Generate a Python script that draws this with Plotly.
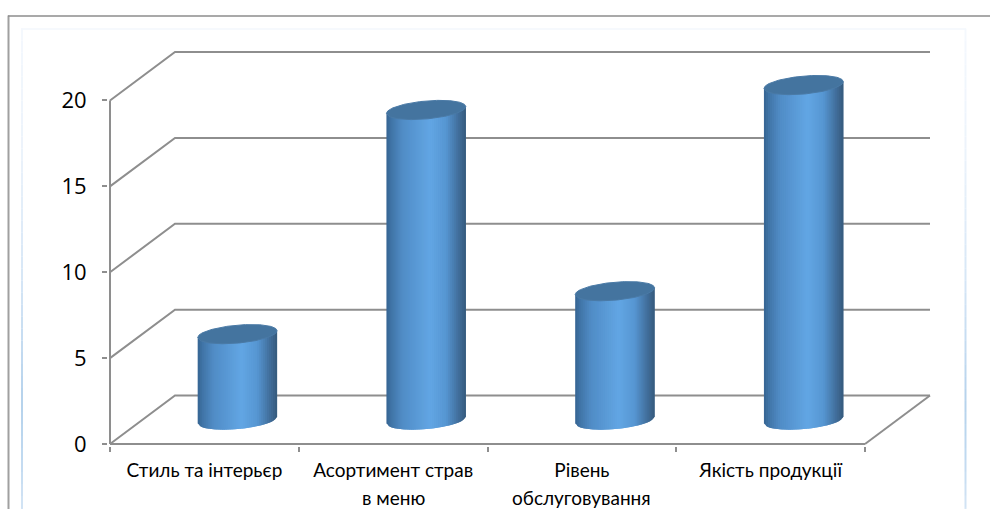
import plotly.graph_objects as go

# ---- data ----
categories = ["Стиль та інтерьєр", "Асортимент страв", "Рівень", "Якість продукції"]
second_lines = ["", "в меню", "обслуговування", ""]
values = [5.0, 18.05, 7.5, 19.5]
y_ticks = [0, 5, 10, 15, 20]

# ---- geometry (pixels of the photo) ----
W, H = 990, 509
L, R, T, B = 110, 865, 100, 444
PAD = 2
PX_X = (R - L) / 4.0
PX_Y = (B - T) / 20.0
DEPTH_X, DEPTH_Y = 65 / PX_X, 48.5 / PX_Y
RX, RY, SLOPE = 39.7 / PX_X, 9 / PX_Y, 3.4 / PX_Y
CYL_DX, CYL_BASE = 33 / PX_X, 24 / PX_Y
GRID = "#8e8e8e"

STOPS = [(0, (54, 100, 146)), (.06, (64, 116, 166)), (.2, (80, 140, 198)), (.55, (98, 166, 228)),
         (.75, (86, 150, 210)), (.9, (66, 112, 158)), (1, (54, 90, 124))]
FRAME_STOPS = [(28, (244, 248, 253)), (150, (236, 243, 251)), (280, (214, 230, 246)),
               (400, (181, 210, 236)), (450, (190, 216, 240)), (509, (212, 228, 245))]


def blend(stops, t):
    for (a, ca), (b, cb) in zip(stops, stops[1:]):
        if t <= b:
            f = max(0.0, (t - a) / (b - a))
            return "rgb(%d,%d,%d)" % tuple(round(p + (q - p) * f) for p, q in zip(ca, cb))
    return "rgb(%d,%d,%d)" % stops[-1][1]


x0, x1 = -0.5, len(categories) - 0.5
PL, PR = L - PAD, R + 65 + PAD
PT, PB = T - 48.5 - PAD, B + PAD


def px(x):
    return (x - PL) / (PR - PL)


def py(y):
    return (PB - y) / (PB - PT)


fig = go.Figure()


def line(xs, ys, color=GRID, width=2):
    fig.add_trace(go.Scatter(x=xs, y=ys, mode="lines", line=dict(color=color, width=width),
                             hoverinfo="skip", showlegend=False))


for v in y_ticks:
    line([x0, x0 + DEPTH_X, x1 + DEPTH_X], [v, v + DEPTH_Y, v + DEPTH_Y])
line([x1, x1 + DEPTH_X], [0, DEPTH_Y])
line([x0, x0], [0, y_ticks[-1]])
line([x0, x1], [0, 0])


def edge(u):
    return SLOPE * u - RY * (1 - u * u) ** 0.5


N = 40
for i, v in enumerate(values):
    cx = i + CYL_DX
    for k in range(N):
        a, b = -1 + 2 * k / N, min(1.0, -1 + 2 * (k + 2) / N)
        col = blend(STOPS, (k + 0.5) / N)
        xs = [cx + RX * a, cx + RX * b, cx + RX * b, cx + RX * a, cx + RX * a]
        ys = [CYL_BASE + edge(a), CYL_BASE + edge(b), CYL_BASE + v + SLOPE * b,
              CYL_BASE + v + SLOPE * a, CYL_BASE + edge(a)]
        fig.add_trace(go.Scatter(x=xs, y=ys, mode="lines", fill="toself", fillcolor=col,
                                 line=dict(width=0), hoverinfo="skip", showlegend=False))
    M = 60
    us = [-1 + 2 * j / M for j in range(M + 1)]
    ex = [cx + RX * u for u in us] + [cx + RX * u for u in reversed(us)]
    ey = [CYL_BASE + v + edge(u) for u in us] + \
         [CYL_BASE + v + 2 * SLOPE * u - edge(u) for u in reversed(us)]
    fig.add_trace(go.Scatter(x=ex, y=ey, mode="lines", fill="toself", fillcolor="#44749f",
                             line=dict(color="#4a7aa6", width=1),
                             hoverinfo="skip", showlegend=False))

# frames of the original picture
shapes = [
    dict(type="line", xref="paper", yref="paper", x0=px(8.5), x1=px(8.5), y0=py(15), y1=py(H),
         line=dict(color="#a0a0a0", width=2)),
    dict(type="line", xref="paper", yref="paper", x0=px(8), x1=px(W), y0=py(15.5), y1=py(15.5),
         line=dict(color="#8c8c8c", width=1.5)),
    dict(type="line", xref="paper", yref="paper", x0=px(21), x1=px(966), y0=py(28.5), y1=py(28.5),
         line=dict(color="#f3f7fc", width=1.5)),
]
STEP = 12
for a in range(28, H, STEP):
    c = blend(FRAME_STOPS, a + STEP / 2)
    for xx in (22, 965.5):
        shapes.append(dict(type="line", xref="paper", yref="paper", x0=px(xx), x1=px(xx), y0=py(a),
                           y1=py(min(H, a + STEP)), line=dict(color=c, width=2)))

annotations = [dict(text=t, x=i, xref="x", y=py(498), yref="paper", yanchor="middle", xanchor="center",
                    showarrow=False, font=dict(family="Lato, Open Sans", size=19, color="#000000"))
               for i, t in enumerate(second_lines) if t]

fig.update_layout(
    width=W, height=H, margin=dict(l=PL, r=W - PR, t=PT, b=H - PB, pad=0),
    paper_bgcolor="white", plot_bgcolor="rgba(0,0,0,0)", showlegend=False,
    shapes=shapes, annotations=annotations,
    xaxis=dict(range=[x0 - PAD / PX_X, x1 + DEPTH_X + PAD / PX_X], tickmode="array",
               tickvals=list(range(len(categories))), ticktext=categories,
               ticks="", showgrid=False, zeroline=False, showline=False,
               tickfont=dict(family="Lato, Open Sans", size=19, color="#000000"), ticklabelstandoff=11,
               minor=dict(tickmode="array", tickvals=[x0 + j for j in range(len(categories) + 1)],
                          ticks="outside", ticklen=5, tickcolor=GRID, tickwidth=2, showgrid=False)),
    yaxis=dict(range=[-PAD / PX_Y, 20 + DEPTH_Y + PAD / PX_Y], tickmode="array", tickvals=y_ticks,
               ticks="outside", ticklen=5, tickcolor=GRID,
               tickwidth=2, showgrid=False, zeroline=False, showline=False,
               tickfont=dict(family="Open Sans", size=22, color="#000000"), ticklabelstandoff=11),
)
fig.write_html("out.html", config=dict(displayModeBar=False),
               post_script="document.body.style.margin='0';")
